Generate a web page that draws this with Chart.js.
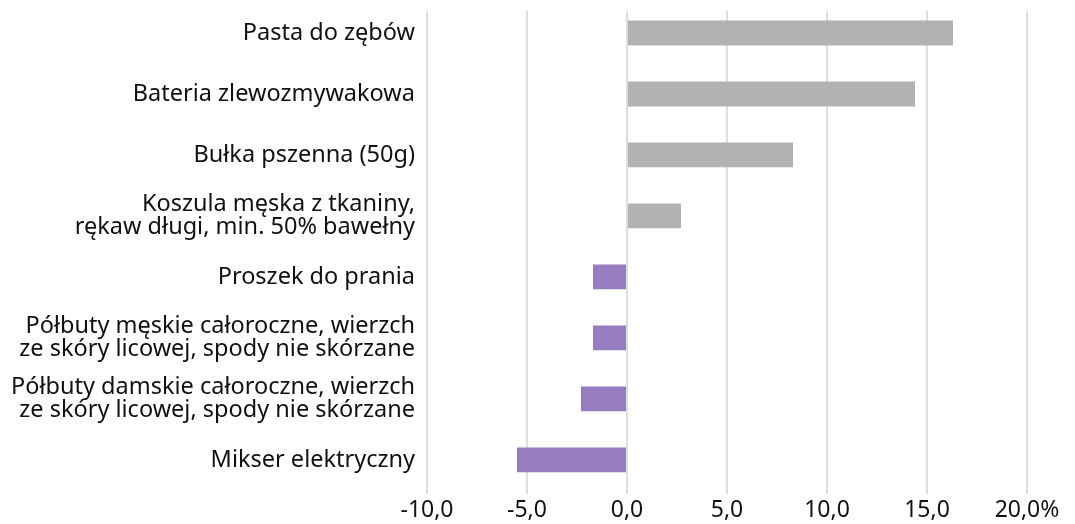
<!DOCTYPE html>
<html lang="pl">
<head>
    <meta charset="UTF-8">
    <title>Zmiany cen wybranych towarów</title>
    <style>
        body {
            margin: 0;
            background-color: #ffffff;
        }

        .chart-container {
            width: 1075px;
            height: 524px;
        }
    </style>
</head>
<body>

<div class="chart-container">
    <canvas id="priceChart"></canvas>
</div>

<script src="https://cdn.jsdelivr.net/npm/chart.js"></script>
<script>
    // Product names (multi-line where the original wraps)
    const products = [
        ['Pasta do zębów'],
        ['Bateria zlewozmywakowa'],
        ['Bułka pszenna (50g)'],
        ['Koszula męska z tkaniny,', 'rękaw długi, min. 50% bawełny'],
        ['Proszek do prania'],
        ['Półbuty męskie całoroczne, wierzch', 'ze skóry licowej, spody nie skórzane'],
        ['Półbuty damskie całoroczne, wierzch', 'ze skóry licowej, spody nie skórzane'],
        ['Mikser elektryczny']
    ];

    // Price change in %
    const changes = [16.3, 14.4, 8.3, 2.7, -1.7, -1.7, -2.3, -5.5];

    // x axis ticks
    const xTicks = [-10, -5, 0, 5, 10, 15, 20];

    const upColor = '#b2b2b2';
    const downColor = '#977cc0';
    const font = "'Noto Sans', sans-serif";

    const points = changes.map((v, i) => ({ x: v, y: i }));

    const config = {
        type: 'bar',
        data: {
            datasets: [{
                data: points,
                backgroundColor: changes.map(v => v >= 0 ? upColor : downColor),
                borderWidth: 0,
                categoryPercentage: 0.8,
                barPercentage: 0.51
            }]
        },
        options: {
            indexAxis: 'y',
            responsive: true,
            maintainAspectRatio: false,
            animation: false,
            layout: {
                padding: { top: 11, right: 48, left: 0, bottom: 0 }
            },
            plugins: {
                legend: { display: false },
                tooltip: { enabled: false }
            },
            scales: {
                x: {
                    type: 'linear',
                    min: xTicks[0],
                    max: xTicks[xTicks.length - 1],
                    afterBuildTicks: function(scale) {
                        scale.ticks = xTicks.map(v => ({ value: v }));
                    },
                    afterFit: function(scale) {
                        scale.height = 30;
                    },
                    grid: {
                        color: '#dedede',
                        lineWidth: 2,
                        drawTicks: false
                    },
                    border: { display: false },
                    ticks: {
                        padding: 3,
                        color: '#111',
                        font: { family: font, size: 23 },
                        callback: function(value) {
                            let s = value.toFixed(1).replace('.', ',');
                            return value === 20 ? s + '%' : s;
                        }
                    }
                },
                y: {
                    type: 'linear',
                    reverse: true,
                    offset: false,
                    min: -0.36,
                    max: 7.56,
                    afterBuildTicks: function(scale) {
                        scale.ticks = products.map((p, i) => ({ value: i }));
                    },
                    afterFit: function(scale) {
                        scale.width = 427;
                        // labels sit well inside the plot, no extra room needed
                        scale.paddingTop = 0;
                        scale.paddingBottom = 0;
                    },
                    grid: { display: false, drawTicks: false, offset: false },
                    border: { display: false },
                    ticks: {
                        padding: 12,
                        color: '#111',
                        font: { family: font, size: 23.5, lineHeight: 0.98 },
                        callback: function(value) {
                            return products[value];
                        }
                    }
                }
            }
        }
    };

    const priceChart = new Chart(document.getElementById('priceChart'), config);
</script>

</body>
</html>
